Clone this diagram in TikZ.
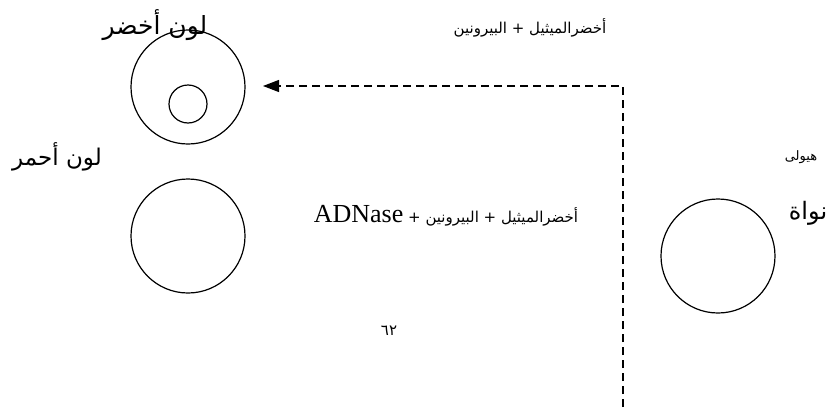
\documentclass[tikz,border=0pt]{standalone}
\usepackage{fontspec}
\setmainfont{Liberation Serif}
\newfontfamily\arabicfont[Script=Arabic]{DejaVu Sans}
\TeXXeTstate=1
\usetikzlibrary{arrows.meta}
\begin{document}
\begin{tikzpicture}[x=1pt,y=-1pt,
  cellc/.style={circle,draw,line width=1.2pt,inner sep=0pt,minimum size=114pt},
  smallc/.style={circle,draw,line width=1.2pt,inner sep=0pt,minimum size=38pt},
  lbl/.style={inner sep=0pt,anchor=center},
  flow/.style={draw,line width=1.2pt,dash pattern=on 8pt off 5pt,-{Triangle[length=16pt,width=12pt]}}]
\useasboundingbox (0,0) rectangle (827,407);
% circles
\node[cellc] (c1) at (188,87) {};
\node[smallc] (c1in) at (188,104) {};
\node[cellc] (c2) at (188,236) {};
\node[cellc] (c3) at (718,256) {};
% labels
\node[lbl,font=\arabicfont\fontsize{25}{28}\selectfont] (lgreen) at (155,25) {\beginR لون أخضر\endR};
\node[lbl,font=\arabicfont\fontsize{23}{26}\selectfont] (lred) at (57,157) {\beginR لون أحمر\endR};
\node[lbl,font=\arabicfont\fontsize{15}{18}\selectfont] (ltop) at (530,28) {\beginR أخضرالميثيل + البيرونين\endR};
\node[lbl,font=\arabicfont\fontsize{13}{15}\selectfont] (lcyto) at (801,157) {\beginR هيولى\endR};
\node[lbl,font=\arabicfont\fontsize{24}{27}\selectfont] (lnuc) at (808,213) {\beginR نواة\endR};
\node[lbl,font=\arabicfont\fontsize{15}{18}\selectfont] (lmid) at (446,216) {\beginR أخضرالميثيل + البيرونين + \beginL{\rmfamily\fontsize{26}{28}\selectfont ADNase}\endL\endR};
\node[lbl,font=\arabicfont\fontsize{15}{17}\selectfont] (lpage) at (389,331) {٦٢};
% dashed connector
\coordinate (bot) at (623,407);
\coordinate (corner) at (623,86);
\coordinate (tip) at (263,86);
\draw[flow] (bot) -- (corner) -- (tip);
\end{tikzpicture}
\end{document}
